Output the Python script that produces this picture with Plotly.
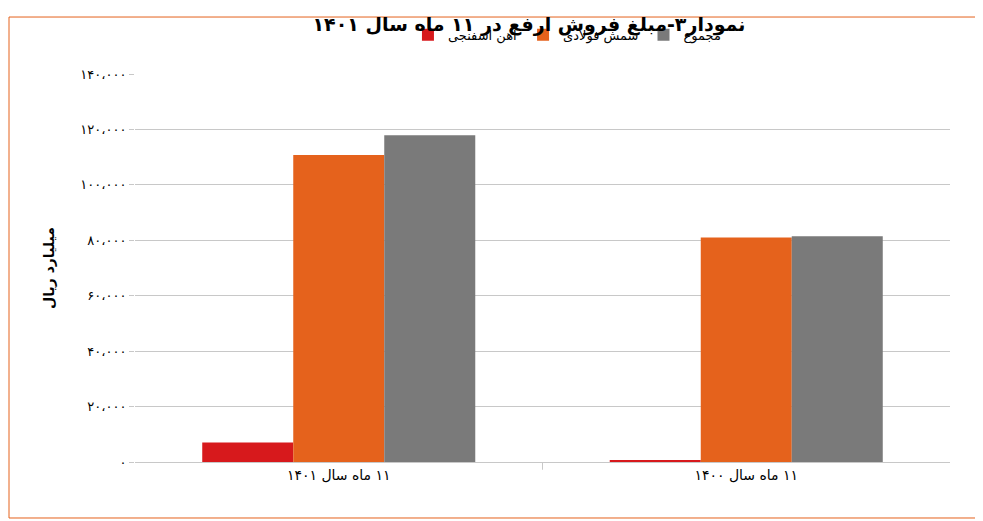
import plotly.graph_objects as go

categories = ["\u200f۱۱ ماه سال ۱۴۰۱", "\u200f۱۱ ماه سال ۱۴۰۰"]
series_names = ["آهن اسفنجی", "شمش فولادی", "مجموع"]
sponge_iron = [7000, 500]
steel_billet = [110800, 81000]
total = [117900, 81500]
colors = ["#d7191c", "#e5621c", "#7a7a7a"]
tick_vals = [0, 20000, 40000, 60000, 80000, 100000, 120000, 140000]
tick_text = ["۰", "۲۰،۰۰۰", "۴۰،۰۰۰", "۶۰،۰۰۰", "۸۰،۰۰۰", "۱۰۰،۰۰۰", "۱۲۰،۰۰۰", "۱۴۰،۰۰۰"]

W, H = 983, 521
L, R, T, B = 127, 41, 59, 67
pw, ph = W - L - R, H - T - B

fig = go.Figure()
for name, vals, c in zip(series_names, [sponge_iron, steel_billet, total], colors):
    fig.add_trace(go.Bar(x=categories, y=vals, name=name, marker_color=c, marker_line_width=0))

fig.update_layout(
    width=W, height=H,
    margin=dict(l=L, r=R, t=T, b=B),
    paper_bgcolor="white", plot_bgcolor="white",
    barmode="group", bargap=0.33, bargroupgap=0,
    font=dict(family="DejaVu Sans", size=13, color="black"),
    title=dict(text="<b>نمودار۳-مبلغ فروش ارفع در ۱۱ ماه سال ۱۴۰۱</b>", x=0.53, xanchor="center",
               y=1 - 16 / H, yanchor="middle", font=dict(size=19)),
    legend=dict(orientation="h", x=0.53, xanchor="center", y=1 + 40 / ph, yanchor="middle",
                font=dict(size=13), itemwidth=30, traceorder="normal"),
    showlegend=True,
)
fig.update_yaxes(range=[0, 140000], tickvals=tick_vals, ticktext=tick_text,
                 showgrid=True, gridcolor="#c8c8c8", gridwidth=1, zeroline=False,
                 showline=False, ticks="outside", ticklen=5, tickcolor="#c8c8c8",
                 title=dict(text="<b>میلیارد ریال</b>", font=dict(size=14), standoff=22),
                 tickfont=dict(size=13))
fig.update_xaxes(showline=True, linecolor="#c8c8c8", ticks="", tickfont=dict(size=14))
fig.add_shape(type="line", xref="x domain", yref="y domain", x0=0.5, x1=0.5, y0=0, y1=-0.02,
              line=dict(color="#c8c8c8", width=1))
fig.add_shape(type="rect", xref="paper", yref="paper",
              x0=-(L - 1) / pw, x1=1 + (R - 10) / pw, y0=-(B - 10) / ph, y1=1 + (T - 1) / ph,
              line=dict(color="#e5621c", width=1))
fig.write_html("out.html")
